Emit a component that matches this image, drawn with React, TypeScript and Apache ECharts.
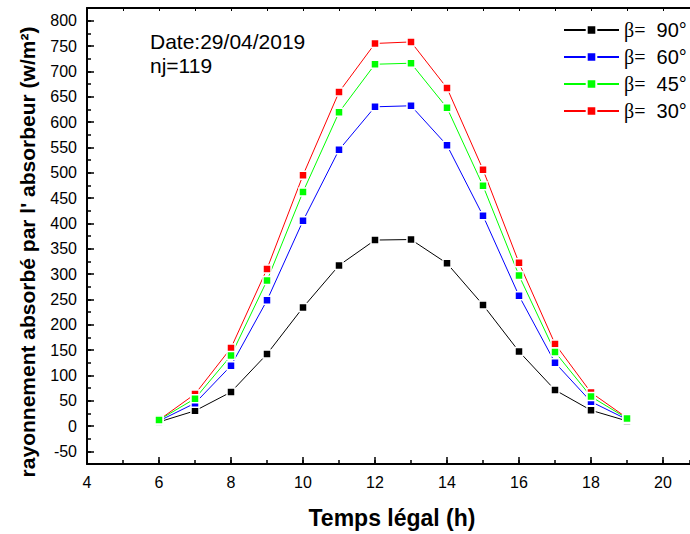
import React, { useEffect, useRef } from "react";
import * as echarts from "echarts";

const hours = [6, 7, 8, 9, 10, 11, 12, 13, 14, 15, 16, 17, 18, 19];
const beta90 = [8, 30, 67, 142, 234, 317, 367, 368, 321, 239, 147, 71, 31, 10];
const beta60 = [10, 45, 119, 248, 405, 545, 630, 632, 554, 415, 257, 125, 48, 13];
const beta45 = [12, 54, 139, 287, 462, 619, 714, 716, 628, 474, 297, 146, 58, 15];
const beta30 = [12, 63, 154, 310, 495, 659, 755, 758, 667, 506, 322, 162, 66, 16];

const xMajorTicks = [4, 6, 8, 10, 12, 14, 16, 18, 20];
const yMajorTicks = [-50, 0, 50, 100, 150, 200, 250, 300, 350, 400, 450, 500, 550, 600, 650, 700, 750, 800];

const seriesDefs = [
  { name: "β= 90°", color: "#000000", data: beta90 },
  { name: "β= 60°", color: "#0000ff", data: beta60 },
  { name: "β= 30°", color: "#ff0000", data: beta30 },
  { name: "β= 45°", color: "#00ff00", data: beta45 },
];
const legendOrder = ["β= 90°", "β= 60°", "β= 45°", "β= 30°"];

const FONT = "Liberation Sans, Arial, sans-serif";

export default function App() {
  const ref = useRef<HTMLDivElement>(null);
  useEffect(() => {
    if (!ref.current) return;
    const chart = echarts.init(ref.current, null, { renderer: "svg" });
    const xMin = 4, xMax = 20.75, yMin = -75, yMax = 825;
    chart.setOption({
      animation: false,
      backgroundColor: "#ffffff",
      textStyle: { fontFamily: FONT },
      grid: { left: 87, top: 8, width: 603, height: 456, containLabel: false },
      xAxis: [
        {
          type: "value", min: xMin, max: xMax, position: "bottom",
          axisLine: { show: true, onZero: false, lineStyle: { color: "#000", width: 2 } },
          axisTick: { show: true, inside: true, length: 7, customValues: xMajorTicks, lineStyle: { color: "#000", width: 1.5 } },
          axisLabel: { show: true, customValues: xMajorTicks, fontSize: 16, color: "#000", margin: 10, fontFamily: FONT },
          splitLine: { show: false },
        },
        {
          type: "value", min: xMin, max: xMax, interval: 1, position: "bottom",
          axisLine: { show: false, onZero: false },
          axisTick: { show: true, inside: true, length: 4, lineStyle: { color: "#000", width: 1.5 } },
          axisLabel: { show: false },
          splitLine: { show: false },
        },
        {
          type: "value", min: xMin, max: xMax, interval: 1, position: "top",
          axisLine: { show: true, onZero: false, lineStyle: { color: "#000", width: 2 } },
          axisTick: { show: true, inside: true, length: 3, lineStyle: { color: "#000", width: 1 } },
          axisLabel: { show: false },
          splitLine: { show: false },
        },
      ],
      yAxis: [
        {
          type: "value", min: yMin, max: yMax, position: "left",
          axisLine: { show: true, onZero: false, lineStyle: { color: "#000", width: 2 } },
          axisTick: { show: true, inside: true, length: 7, customValues: yMajorTicks, lineStyle: { color: "#000", width: 1.5 } },
          axisLabel: { show: true, customValues: yMajorTicks, fontSize: 16, color: "#000", margin: 10, fontFamily: FONT },
          splitLine: { show: false },
        },
        {
          type: "value", min: yMin, max: yMax, interval: 25, position: "left",
          axisLine: { show: false, onZero: false },
          axisTick: { show: true, inside: true, length: 4, lineStyle: { color: "#000", width: 1.5 } },
          axisLabel: { show: false },
          splitLine: { show: false },
        },
      ],
      legend: {
        orient: "vertical",
        left: 558,
        top: 15,
        itemWidth: 55,
        itemHeight: 12,
        itemGap: 7,
        data: legendOrder,
        formatter: (name: string) => {
          const deg = name.replace("β= ", "");
          return `{b|β=}{n|  ${deg}}`;
        },
        textStyle: {
          fontSize: 19, color: "#000", lineHeight: 20,
          rich: {
            b: { fontFamily: "Liberation Serif, Times New Roman, serif", fontSize: 20, color: "#000" },
            n: { fontFamily: FONT, fontSize: 20, color: "#000" },
          },
        },
      },
      series: seriesDefs.map((s) => ({
        name: s.name,
        type: "line",
        xAxisIndex: 0,
        yAxisIndex: 0,
        data: hours.map((h, i) => [h, s.data[i]]),
        symbol: "rect",
        symbolSize: 8,
        lineStyle: { color: s.color, width: 1 },
        itemStyle: { color: s.color, borderColor: "#ffffff", borderWidth: 1.5 },
      })),
      graphic: [
        {
          type: "text", left: 150, top: 31,
          style: { text: "Date:29/04/2019", font: `21px ${FONT}`, fill: "#000" },
        },
        {
          type: "text", left: 150, top: 55,
          style: { text: "nj=119", font: `21px ${FONT}`, fill: "#000" },
        },
        {
          type: "text", x: 27, y: 252, rotation: Math.PI / 2,
          style: {
            text: "rayonnement absorbé par l' absorbeur (w/m²)",
            font: `bold 21px ${FONT}`, fill: "#000", align: "center", verticalAlign: "middle",
          },
        },
        {
          type: "text", x: 392, y: 518,
          style: {
            text: "Temps légal (h)",
            font: `bold 23px ${FONT}`, fill: "#000", align: "center", verticalAlign: "middle",
          },
        },
      ],
    } as any);
    return () => chart.dispose();
  }, []);
  return <div ref={ref} style={{ width: 690, height: 534, position: "absolute", left: 0, top: 0 }} />;
}
